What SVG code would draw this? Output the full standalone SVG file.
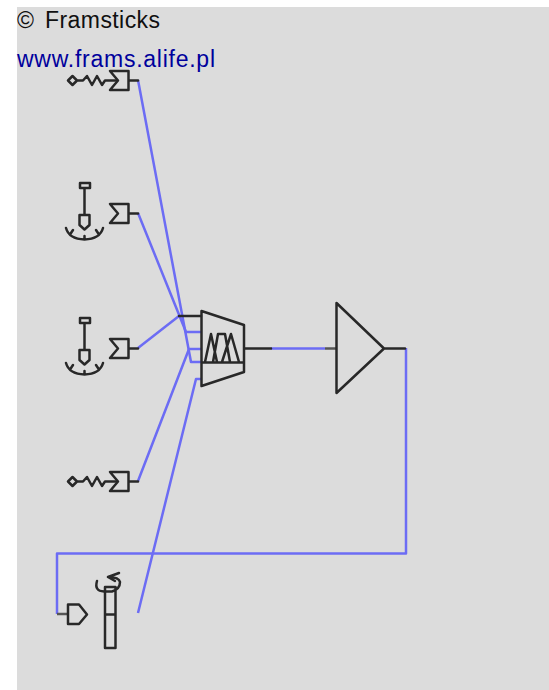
<svg xmlns="http://www.w3.org/2000/svg" width="549" height="690" viewBox="0 0 549 690">
<style>
.k{fill:none;stroke:#282828;stroke-width:2.500;stroke-linejoin:round;stroke-linecap:round}
.g{fill:none;stroke:#555;stroke-width:2.500}
.b{fill:none;stroke:#6c6cf4;stroke-width:2.500;stroke-linejoin:round}
.t{font-family:"Liberation Sans",Arial,sans-serif;font-size:23px}
</style>
<defs>
<g id="sum"><path class="k" d="M110 -9.500H128.500V9.500H110L118 0Z M128.500 0H138"/></g>
<g id="touch"><path class="k" d="M80 -32H90V-27H80Z M84.500 -27V0 M79.500 0H89.500V10L84.500 14.500L79.500 10Z M66 13Q69 24 84.500 24.500Q100 24 103 13 M71 18L73 15 M84.500 24.500V21 M98 18L96 15"/></g>
</defs>
<rect x="17" y="7" width="532" height="683" fill="#dcdcdc"/>
<g id="connectors">
<path class="b" d="M138 80L191 362H201"/>
<path class="b" d="M138 213L186 332H201"/>
<path class="b" d="M138 348L179 316"/>
<path class="b" d="M138 481L189 349H201"/>
<path class="b" d="M138 613L196 379H201"/>
<path class="b" d="M271 348.500H325"/>
<path class="b" d="M406 348V553.500H57V614"/>
<path class="k" d="M179 316H201"/>
<path class="g" d="M325 348.500H336 M57 614H68"/>
</g>
<g id="sensor1"><path class="k" d="M68 80.500L72.500 76L77 80.500L72.500 85Z M77 80.500H83L87 76L92 85L97 76L102 85L105 80.500H116"/><use href="#sum" y="80.500"/></g>
<g id="sensor2"><use href="#touch" x="0" y="215"/><use href="#sum" y="213.500"/></g>
<g id="sensor3"><use href="#touch" x="0" y="350"/><use href="#sum" y="348.500"/></g>
<g id="sensor4"><path class="k" d="M68 481.500L72.500 477L77 481.500L72.500 486Z M77 481.500H83L87 477L92 486L97 477L102 486L105 481.500H116"/><use href="#sum" y="481.500"/></g>
<g id="fuzzy"><path class="k" d="M201.500 311L244 325V372L201.500 386Z M244 348.500H271 M201.500 362.500H244 M205 362L211 334L217 362 M213 362L218 334H225L230 362 M222 362L231 334L239 362"/></g>
<g id="neuron"><path class="k" d="M336.500 303L384 348.500L336.500 393Z M384 348.500H405"/></g>
<g id="effector"><path class="k" d="M68 604.500H79L87 614.500L79 624H68Z"/></g>
<g id="muscle"><path class="k" d="M105 587H115.500V648H105Z M105 614.500H115.500 M97 581Q94 591 104 591.500H112Q120 589 120 582Q119 577 108 577 M108 577L119 573 M108 577L115 581"/></g>
<text class="t" y="28" fill="#101010"><tspan x="17">©</tspan><tspan x="45" textLength="115" lengthAdjust="spacing">Framsticks</tspan></text>
<text class="t" x="17" y="67" fill="#00009c" textLength="198" lengthAdjust="spacing">www.frams.alife.pl</text>
</svg>
